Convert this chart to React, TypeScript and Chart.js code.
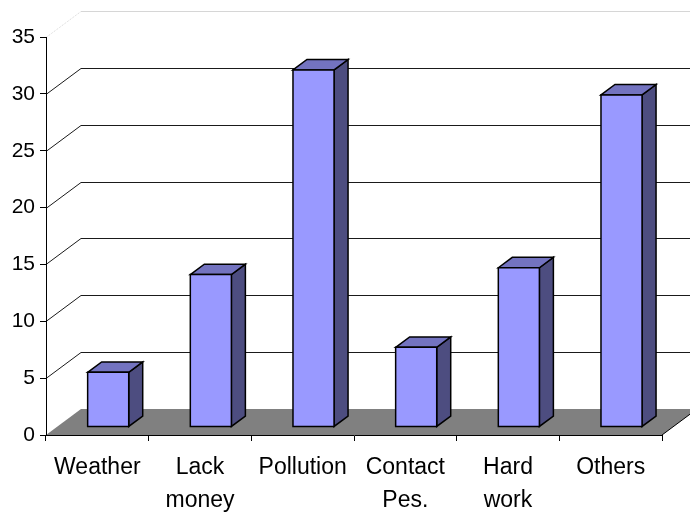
import React, { useEffect, useRef } from "react";
import { Chart, registerables } from "chart.js";

Chart.register(...registerables);

// Reasons given, in percent
const categories: (string | string[])[] = [
  "Weather",
  ["Lack", "money"],
  "Pollution",
  ["Contact", "Pes."],
  ["Hard", "work"],
  "Others",
];
const shares = [4.8, 13.4, 31.4, 7.0, 14.0, 29.2];
const yTicks = [0, 5, 10, 15, 20, 25, 30, 35];

// Oblique depth of the 3D box (floor / back wall offset)
const DEPTH_X = 35;
const DEPTH_Y = -26;
// Column placement inside that depth (front plane fraction, column depth fraction)
const COL_FRONT = 0.31;
const COL_DEPTH = 0.4;

const FONT = "'Liberation Sans', Arial, sans-serif";

const box3d = {
  id: "box3d",
  beforeDraw(chart: any) {
    const { ctx, chartArea } = chart;
    const ys = chart.scales.y;
    const { left, right } = chartArea;
    ctx.save();
    // floor
    const y0 = ys.getPixelForValue(0);
    ctx.fillStyle = "#808080";
    ctx.beginPath();
    ctx.moveTo(left, y0);
    ctx.lineTo(right, y0);
    ctx.lineTo(right + DEPTH_X, y0 + DEPTH_Y);
    ctx.lineTo(left + DEPTH_X, y0 + DEPTH_Y);
    ctx.closePath();
    ctx.fill();
    // floor right edge
    ctx.strokeStyle = "#000";
    ctx.lineWidth = 1;
    ctx.beginPath();
    ctx.moveTo(right, y0);
    ctx.lineTo(right + DEPTH_X, y0 + DEPTH_Y);
    ctx.stroke();

    // side and back wall gridlines
    yTicks.forEach((v) => {
      if (v === 0) return;
      const y = Math.round(ys.getPixelForValue(v)) + 0.5;
      const top = v === yTicks[yTicks.length - 1];
      ctx.strokeStyle = top ? "#d6d6d6" : "#1a1a1a";
      ctx.setLineDash(top ? [1, 1] : []);
      ctx.beginPath();
      ctx.moveTo(left, y);
      ctx.lineTo(left + DEPTH_X, y + DEPTH_Y);
      ctx.stroke();
      ctx.setLineDash([]);
      ctx.beginPath();
      ctx.moveTo(left + DEPTH_X, y + DEPTH_Y);
      ctx.lineTo(right + DEPTH_X, y + DEPTH_Y);
      ctx.stroke();
    });
    ctx.restore();
  },
  afterDatasetsDraw(chart: any) {
    const { ctx } = chart;
    const meta = chart.getDatasetMeta(0);
    const fx = COL_FRONT * DEPTH_X;
    const fy = COL_FRONT * DEPTH_Y;
    const dx = COL_DEPTH * DEPTH_X;
    const dy = COL_DEPTH * DEPTH_Y;
    ctx.save();
    ctx.lineWidth = 1.5;
    ctx.strokeStyle = "#000";
    ctx.lineJoin = "miter";
    meta.data.forEach((bar: any) => {
      const p = bar.getProps(["x", "y", "base", "width"], true);
      const xl = p.x - p.width / 2 + fx;
      const xr = p.x + p.width / 2 + fx;
      const yt = p.y + fy;
      const yb = p.base + fy;
      // side face
      ctx.fillStyle = "#4d4d80";
      ctx.beginPath();
      ctx.moveTo(xr, yt);
      ctx.lineTo(xr + dx, yt + dy);
      ctx.lineTo(xr + dx, yb + dy);
      ctx.lineTo(xr, yb);
      ctx.closePath();
      ctx.fill();
      ctx.stroke();
      // top face
      ctx.fillStyle = "#7373c0";
      ctx.beginPath();
      ctx.moveTo(xl, yt);
      ctx.lineTo(xl + dx, yt + dy);
      ctx.lineTo(xr + dx, yt + dy);
      ctx.lineTo(xr, yt);
      ctx.closePath();
      ctx.fill();
      ctx.stroke();
      // front face
      ctx.fillStyle = "#9999ff";
      ctx.beginPath();
      ctx.rect(xl, yt, xr - xl, yb - yt);
      ctx.fill();
      ctx.stroke();
    });
    ctx.restore();
  },
};

export default function App() {
  const ref = useRef<HTMLCanvasElement>(null);

  useEffect(() => {
    if (!ref.current) return;
    const chart = new Chart(ref.current, {
      type: "bar",
      data: {
        labels: categories,
        datasets: [
          {
            data: shares,
            backgroundColor: "rgba(0,0,0,0)",
            borderWidth: 0,
            barPercentage: 0.4,
            categoryPercentage: 1,
          },
        ],
      },
      options: {
        animation: false,
        responsive: false,
        layout: { padding: { top: 37, right: 28, left: 0, bottom: 0 } },
        plugins: { legend: { display: false }, tooltip: { enabled: false } },
        scales: {
          x: {
            grid: {
              drawOnChartArea: false,
              drawTicks: true,
              tickLength: 6,
              color: "#000",
              offset: true,
            },
            border: { display: true, color: "#000" },
            ticks: {
              color: "#000",
              font: { family: FONT, size: 23, lineHeight: 1.43 },
              maxRotation: 0,
              autoSkip: false,
              padding: 10,
            },
            afterFit: (s: any) => {
              s.height = 79;
            },
          },
          y: {
            min: 0,
            max: 35,
            grid: {
              drawOnChartArea: false,
              drawTicks: true,
              tickLength: 6,
              color: "#000",
            },
            border: { display: true, color: "#000" },
            ticks: {
              stepSize: 5,
              color: "#000",
              font: { family: FONT, size: 21 },
              padding: 5,
            },
            afterFit: (s: any) => {
              s.width = 46;
            },
          },
        },
      },
      plugins: [box3d],
    });
    return () => chart.destroy();
  }, []);

  return (
    <div style={{ position: "absolute", left: 0, top: 0, width: 690, height: 514, background: "#fff" }}>
      <canvas ref={ref} width={690} height={514} />
    </div>
  );
}
